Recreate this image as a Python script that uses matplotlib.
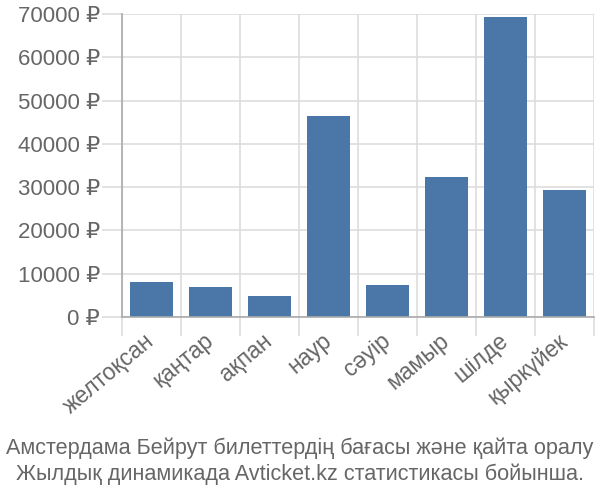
import matplotlib
matplotlib.use("Agg")
import matplotlib.pyplot as plt

plt.rcParams['font.family'] = ['Liberation Sans', 'DejaVu Sans']

months = ["желтоқсан", "қаңтар", "ақпан", "наур", "сәуір", "мамыр", "шілде", "қыркүйек"]
prices = [8100, 6900, 4850, 46400, 7400, 32300, 69250, 29350]
y_ticks = [0, 10000, 20000, 30000, 40000, 50000, 60000, 70000]
caption = ("Амстердама Бейрут билеттердің бағасы және қайта оралу\n"
           "Жылдық динамикада Avticket.kz статистикасы бойынша.")

text_grey = "#666666"
grid_grey = "#dddddd"
axis_grey = "#aaaaaa"

fig = plt.figure(figsize=(6, 5), dpi=100)
ax = fig.add_axes([122 / 600, 183 / 500, 472 / 600, 303 / 500])

x = list(range(len(months)))
ax.bar(x, prices, width=0.72, color="#4a76a8", zorder=3)

ax.set_xlim(-0.5, len(months) - 0.5)
ax.set_ylim(0, 70000)

# labels at bar centres, ticks + grid at category boundaries
ax.set_xticks(x)
ax.set_xticklabels(months, rotation=40, ha="right", va="center",
                   rotation_mode="anchor", fontsize=16.5, color=text_grey)
ax.set_xticks([i - 0.5 for i in range(len(months) + 1)], minor=True)
ax.tick_params(axis="x", which="major", length=0, pad=15)
ax.tick_params(axis="x", which="minor", length=13.7, width=1.2, color=grid_grey)
ax.xaxis.grid(True, which="minor", color=grid_grey, linewidth=1.2, zorder=0)

ax.set_yticks(y_ticks)
ax.set_yticklabels([f"{v} ₽" for v in y_ticks], fontsize=16, color=text_grey)
ax.tick_params(axis="y", length=14.4, width=1.2, color=grid_grey, pad=1.5)
ax.yaxis.grid(True, color=grid_grey, linewidth=1.2, zorder=0)

ax.xaxis.get_minor_ticks()[0].tick1line.set_color(axis_grey)
ax.yaxis.get_major_ticks()[0].tick1line.set_color(axis_grey)

for side in ("top", "right"):
    ax.spines[side].set_visible(False)
for side in ("left", "bottom"):
    ax.spines[side].set_color(axis_grey)
    ax.spines[side].set_linewidth(1.2)
    ax.spines[side].set_zorder(4)

fig.text(0.5, 0.078, caption, ha="center", va="center", fontsize=15.6,
         color=text_grey, linespacing=1.3)

fig.savefig("out.png", dpi=100)
